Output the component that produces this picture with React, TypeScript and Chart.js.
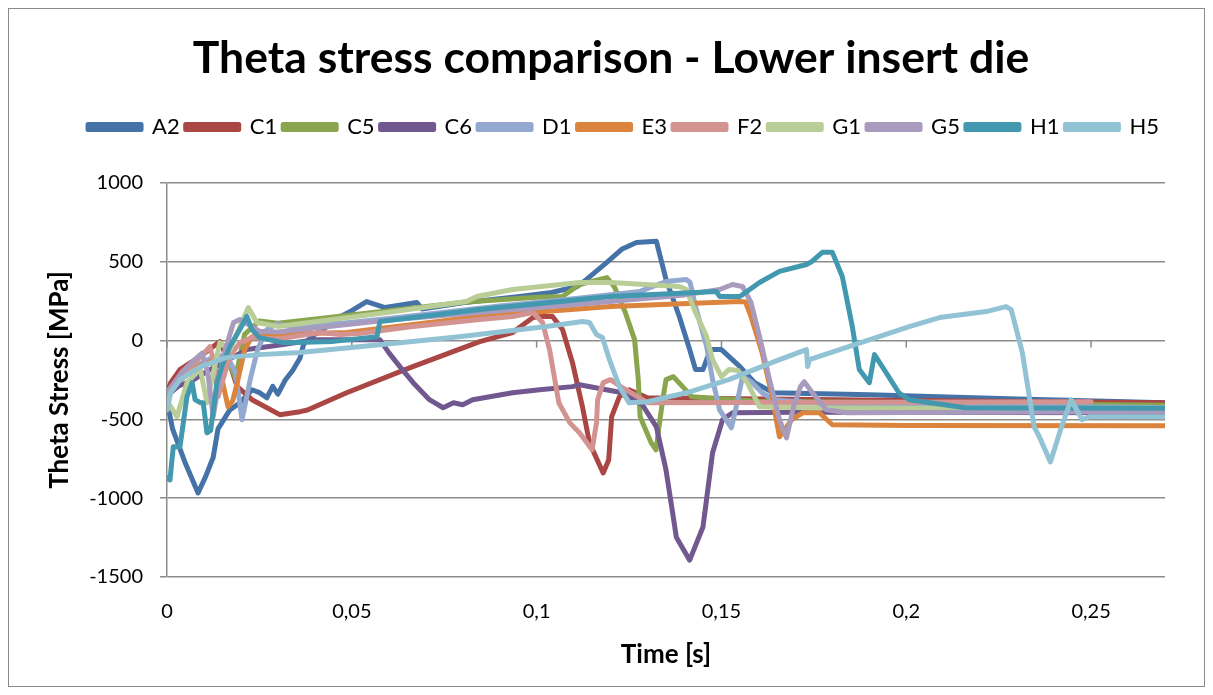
import React, { useEffect, useRef } from "react";
import { Chart, registerables } from "chart.js";

Chart.register(...registerables);

const titleText = "Theta stress comparison - Lower insert die";
const yTitle = "Theta Stress [MPa]";
const xTitle = "Time [s]";

const seriesNames = ["A2", "C1", "C5", "C6", "D1", "E3", "F2", "G1", "G5", "H1", "H5"];
const seriesColors = ["#4572A7", "#AA4643", "#89A54E", "#71588F", "#93A9CF", "#DB843D", "#D39491", "#B9CD96", "#A99BBD", "#4198AF", "#92C3D5"];

const a2X = [0, 0.0015, 0.005, 0.0084, 0.0105, 0.0125, 0.0138, 0.017, 0.0197, 0.023, 0.025, 0.027, 0.0286, 0.03, 0.032, 0.034, 0.036, 0.037, 0.04, 0.044, 0.047, 0.05, 0.054, 0.059, 0.0676, 0.069, 0.08, 0.0954, 0.104, 0.111, 0.1135, 0.119, 0.123, 0.127, 0.1324, 0.135, 0.1386, 0.1414, 0.143, 0.145, 0.147, 0.15, 0.155, 0.159, 0.164, 0.19, 0.23, 0.27];
const a2Y = [-380, -560, -780, -967, -860, -740, -560, -440, -395, -312, -330, -363, -290, -340, -250, -190, -110, -20, 40, 100, 153, 190, 248, 210, 242, 200, 240, 280, 305, 343, 388, 496, 579, 623, 630, 388, 153, -57, -184, -184, -57, -57, -165, -267, -331, -343, -370, -395];

const c1X = [0, 0.001, 0.0035, 0.009, 0.0135, 0.0143, 0.017, 0.019, 0.023, 0.0305, 0.036, 0.038, 0.0486, 0.0665, 0.0846, 0.0935, 0.099, 0.1008, 0.1043, 0.107, 0.1097, 0.1124, 0.1143, 0.118, 0.1195, 0.1203, 0.1224, 0.125, 0.13, 0.2, 0.27];
const c1Y = [-330, -267, -184, -100, -20, -6, -150, -292, -375, -470, -451, -440, -331, -165, -6, 51, 146, 153, 153, 70, -140, -420, -649, -840, -757, -483, -356, -312, -363, -380, -395];

const c5X = [0, 0.003, 0.008, 0.013, 0.0165, 0.0185, 0.021, 0.025, 0.03, 0.045, 0.06, 0.081, 0.1, 0.107, 0.1116, 0.119, 0.121, 0.124, 0.1265, 0.1275, 0.128, 0.131, 0.1323, 0.133, 0.134, 0.135, 0.137, 0.1395, 0.142, 0.16, 0.27];
const c5Y = [-350, -260, -170, -110, -120, -240, 40, 125, 110, 150, 190, 245, 275, 280, 356, 400, 343, 178, 6, -248, -483, -649, -693, -566, -394, -248, -229, -292, -356, -385, -410];

const c6X = [0, 0.003, 0.007, 0.012, 0.0216, 0.03, 0.04, 0.0576, 0.06, 0.063, 0.0666, 0.071, 0.0747, 0.0775, 0.08, 0.0827, 0.0935, 0.1008, 0.1097, 0.1116, 0.1232, 0.1286, 0.1324, 0.135, 0.1378, 0.1414, 0.145, 0.1476, 0.1503, 0.153, 0.17, 0.27];
const c6Y = [-350, -290, -250, -180, -57, -30, 6, 6, -76, -165, -267, -375, -426, -394, -407, -375, -331, -312, -292, -280, -331, -407, -547, -820, -1247, -1393, -1183, -712, -502, -458, -455, -458];

const d1X = [0, 0.004, 0.008, 0.012, 0.016, 0.0185, 0.0203, 0.0225, 0.0245, 0.027, 0.0297, 0.035, 0.06, 0.09, 0.11, 0.128, 0.135, 0.1405, 0.1415, 0.143, 0.146, 0.1476, 0.1495, 0.1527, 0.154, 0.1557, 0.158, 0.161, 0.164, 0.18, 0.27];
const d1Y = [-350, -230, -160, -110, -90, -200, -502, -248, -57, 70, 105, 80, 140, 220, 265, 312, 375, 388, 370, 216, -38, -248, -439, -553, -420, -229, -260, -331, -375, -405, -425];

const e3X = [0, 0.004, 0.008, 0.012, 0.015, 0.0165, 0.0178, 0.019, 0.021, 0.023, 0.03, 0.0486, 0.0846, 0.12, 0.155, 0.1565, 0.158, 0.161, 0.1635, 0.1657, 0.169, 0.172, 0.1765, 0.18, 0.2, 0.27];
const e3Y = [-330, -240, -170, -130, -260, -420, -380, -267, -57, 25, 40, 51, 153, 216, 248, 245, 153, -76, -331, -610, -502, -458, -458, -534, -538, -540];

const f2X = [0, 0.004, 0.008, 0.0116, 0.0128, 0.0138, 0.017, 0.0197, 0.023, 0.03, 0.0413, 0.0468, 0.052, 0.0665, 0.0846, 0.0935, 0.099, 0.1016, 0.1035, 0.106, 0.109, 0.1116, 0.115, 0.1162, 0.1165, 0.118, 0.12, 0.1232, 0.13, 0.25];
const f2Y = [-330, -220, -130, -38, -150, -356, -100, -13, 20, 10, 51, 38, 45, 89, 134, 153, 178, 115, -57, -394, -522, -585, -693, -522, -375, -267, -248, -299, -394, -388];

const g1X = [0, 0.0027, 0.0054, 0.009, 0.0108, 0.0143, 0.017, 0.022, 0.0243, 0.03, 0.06, 0.081, 0.0838, 0.0935, 0.1116, 0.12, 0.1386, 0.1405, 0.143, 0.146, 0.1476, 0.15, 0.152, 0.1545, 0.157, 0.1603, 0.18, 0.27];
const g1Y = [-380, -483, -267, -180, -394, -13, -60, 210, 115, 90, 180, 248, 280, 324, 369, 369, 343, 324, 178, 25, -121, -229, -184, -190, -267, -420, -430, -430];

const g5X = [0, 0.004, 0.008, 0.0095, 0.011, 0.0125, 0.0152, 0.018, 0.0197, 0.025, 0.03, 0.06, 0.09, 0.12, 0.14, 0.1495, 0.153, 0.1557, 0.158, 0.1605, 0.163, 0.1657, 0.1676, 0.1695, 0.1714, 0.1724, 0.1746, 0.1784, 0.184, 0.27];
const g5Y = [-330, -200, -110, -80, -200, -483, -100, 115, 134, 60, 55, 130, 190, 248, 290, 324, 356, 343, 242, 6, -248, -502, -617, -420, -292, -261, -331, -439, -458, -450];

const h1X = [0, 0.0008, 0.0017, 0.0035, 0.0054, 0.0068, 0.0076, 0.009, 0.0098, 0.0108, 0.0118, 0.0135, 0.0152, 0.017, 0.0197, 0.0216, 0.023, 0.025, 0.0314, 0.045, 0.0568, 0.0576, 0.0846, 0.12, 0.1486, 0.1495, 0.155, 0.1603, 0.1657, 0.173, 0.1745, 0.1773, 0.18, 0.1827, 0.1854, 0.1873, 0.19, 0.1914, 0.1935, 0.198, 0.2008, 0.216, 0.27];
const h1Y = [-870, -884, -674, -674, -356, -267, -375, -394, -394, -585, -570, -267, -140, -38, 70, 153, 70, 19, -13, -5, 25, 121, 197, 280, 312, 280, 280, 369, 439, 483, 502, 560, 560, 407, 89, -184, -267, -89, -165, -331, -375, -426, -430];

const h5X = [0, 0.001, 0.0035, 0.009, 0.016, 0.025, 0.036, 0.063, 0.079, 0.1027, 0.1124, 0.1143, 0.1162, 0.1178, 0.1197, 0.1224, 0.125, 0.13, 0.1405, 0.152, 0.1657, 0.173, 0.1733, 0.1738, 0.2008, 0.209, 0.2216, 0.227, 0.2284, 0.2314, 0.2346, 0.236, 0.239, 0.242, 0.2446, 0.2476, 0.2495, 0.27];
const h5Y = [-440, -330, -248, -165, -108, -89, -76, -13, 25, 89, 121, 115, 38, 20, -121, -292, -394, -388, -331, -248, -121, -57, -165, -120, 89, 146, 184, 216, 197, -76, -547, -610, -770, -547, -375, -502, -483, -483];

const seriesX = [a2X, c1X, c5X, c6X, d1X, e3X, f2X, g1X, g5X, h1X, h5X];
const seriesY = [a2Y, c1Y, c5Y, c6Y, d1Y, e3Y, f2Y, g1Y, g5Y, h1Y, h5Y];

const xTicks = [0, 0.05, 0.1, 0.15, 0.2, 0.25];
const yTicks = [-1500, -1000, -500, 0, 500, 1000];

const FONT = "Lato, 'Open Sans', sans-serif";
const GRID = "#8c8c8c";

const zeroTicks = {
  id: "zeroTicks",
  beforeDatasetsDraw(chart: any) {
    const { ctx, scales } = chart;
    const y0 = scales.y.getPixelForValue(0);
    ctx.save();
    ctx.strokeStyle = GRID;
    ctx.lineWidth = 1.5;
    for (const t of xTicks) {
      const px = scales.x.getPixelForValue(t);
      ctx.beginPath();
      ctx.moveTo(px, y0);
      ctx.lineTo(px, y0 + 7);
      ctx.stroke();
    }
    ctx.restore();
  },
};

const chartTitle = {
  id: "chartTitle",
  afterDraw(chart: any) {
    const { ctx } = chart;
    ctx.save();
    ctx.fillStyle = "#000";
    ctx.font = `bold 44.5px ${FONT}`;
    ctx.textAlign = "center";
    ctx.textBaseline = "middle";
    ctx.fillText(titleText, 602, 50);
    ctx.restore();
  },
};

const legendSpace = {
  id: "legendSpace",
  beforeUpdate(chart: any) {
    const lg = chart.legend;
    if (!lg || lg._patchedFit) return;
    const orig = lg.fit;
    lg.fit = function () {
      orig.call(lg);
      lg.height += 35;
    };
    lg._patchedFit = true;
  },
};

export default function App() {
  const ref = useRef<HTMLCanvasElement>(null);
  useEffect(() => {
    if (!ref.current) return;
    const datasets = seriesNames.map((name, i) => ({
      label: name,
      data: seriesX[i].map((x, k) => ({ x, y: seriesY[i][k] })),
      borderColor: seriesColors[i],
      backgroundColor: seriesColors[i],
      borderWidth: 5,
      pointRadius: 0,
      tension: 0,
      borderJoinStyle: "round" as const,
      borderCapStyle: "round" as const,
      order: -i,
    }));
    const chart = new Chart(ref.current, {
      type: "line",
      data: { datasets },
      plugins: [zeroTicks, legendSpace, chartTitle],
      options: {
        animation: false,
        responsive: false,
        devicePixelRatio: 1,
        layout: { padding: { left: 0, right: 39, top: 101, bottom: 0 } },
        plugins: {
          title: { display: false },
          legend: {
            position: "top",
            align: "end",
            labels: {
              color: "#000",
              font: { family: FONT, size: 22 },
              boxWidth: 53,
              boxHeight: 5,
              padding: 6,
              sort: (a: any, b: any) => a.datasetIndex - b.datasetIndex,
            },
          },
          tooltip: { enabled: false },
        },
        scales: {
          x: {
            type: "linear",
            min: 0,
            max: 0.27,
            afterFit: (s: any) => {
              s.height = 109;
            },
            afterBuildTicks: (s: any) => {
              s.ticks = xTicks.map((v) => ({ value: v }));
            },
            grid: { display: false, drawTicks: false },
            border: { display: false },
            ticks: {
              color: "#000",
              font: { family: FONT, size: 20 },
              padding: 23,
              maxRotation: 0,
              autoSkip: false,
              callback: (v: any) => String(Math.round(Number(v) * 100) / 100).replace(".", ","),
            },
            title: {
              display: true,
              text: xTitle,
              color: "#000",
              font: { family: FONT, size: 26, weight: "bold" },
              padding: { top: 0, bottom: 16 },
            },
          },
          y: {
            min: -1500,
            max: 1000,
            afterFit: (s: any) => {
              s.width = 158;
            },
            afterBuildTicks: (s: any) => {
              s.ticks = yTicks.map((v) => ({ value: v }));
            },
            grid: { color: GRID, lineWidth: 1.5, tickLength: 7, drawTicks: true },
            border: { display: true, color: GRID, width: 1.5 },
            ticks: {
              color: "#000",
              font: { family: FONT, size: 20 },
              padding: 17,
              callback: (v: any) => String(v),
            },
            title: {
              display: true,
              text: yTitle,
              color: "#000",
              font: { family: FONT, size: 26, weight: "bold" },
              padding: { top: 35, bottom: 0 },
            },
          },
        },
      },
    });
    return () => chart.destroy();
  }, []);
  return (
    <div style={{ width: 1197, height: 679, border: "1px solid #898989", boxSizing: "border-box" }}>
      <canvas ref={ref} width={1195} height={677} style={{ display: "block" }} />
    </div>
  );
}
